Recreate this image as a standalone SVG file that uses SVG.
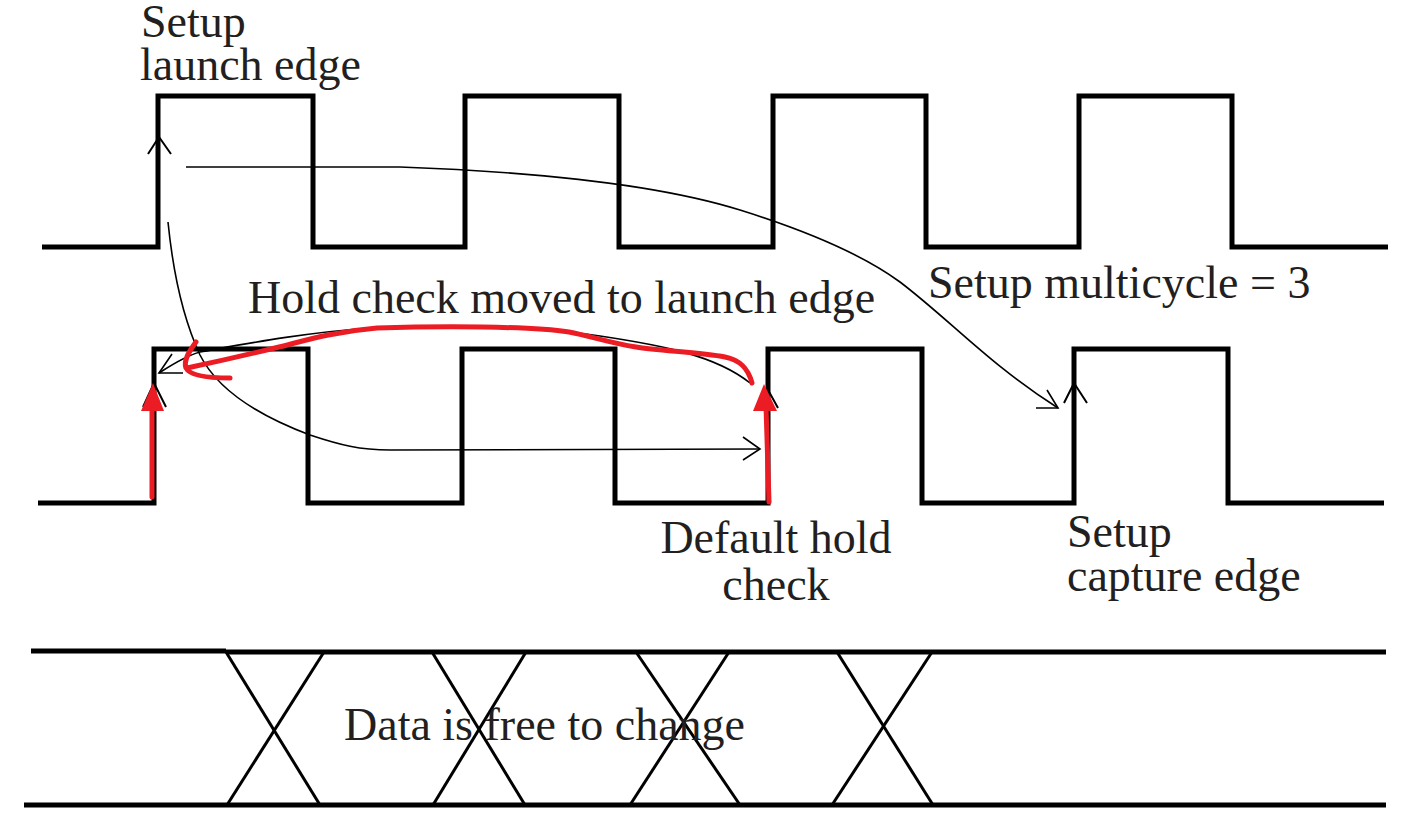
<svg xmlns="http://www.w3.org/2000/svg" width="1401" height="822" viewBox="0 0 1401 822">
<style>
.wave{fill:none;stroke:#000;stroke-width:5;stroke-linejoin:miter}
.bus{fill:none;stroke:#000;stroke-width:5}
.x{fill:none;stroke:#000;stroke-width:3}
.thin{fill:none;stroke:#000;stroke-width:1.6}
.chev{fill:none;stroke:#000;stroke-width:2}
.red{fill:none;stroke:#ec1c24;stroke-width:5;stroke-linecap:round;stroke-linejoin:round}
.redhead{fill:#ec1c24;stroke:none}
.lbl{font-family:"Liberation Serif","Times New Roman",serif;font-size:46px;fill:#231f20}
</style>
<rect width="1401" height="822" fill="#fff"/>
<g id="launch-clock">
<polyline class="wave" points="42,247 158,247 158,96 313,96 313,247 465,247 465,96 619,96 619,247 773,247 773,96 926,96 926,247 1079,247 1079,96 1232,96 1232,247 1388,247"/>
</g>
<g id="capture-clock">
<polyline class="wave" points="38,503 154,503 154,349 308,349 308,503 462,503 462,349 615,349 615,503 768,503 768,349 922,349 922,503 1074,503 1074,349 1228,349 1228,503 1384,503"/>
</g>
<g id="data-bus">
<line class="bus" x1="31" y1="651" x2="226" y2="651"/>
<line class="bus" x1="226" y1="652" x2="1386" y2="652"/>
<line class="bus" x1="24" y1="805" x2="1386" y2="805"/>
<line class="x" x1="226" y1="652" x2="320" y2="805"/>
<line class="x" x1="324" y1="652" x2="227" y2="805"/>
<line class="x" x1="432" y1="652" x2="525" y2="805"/>
<line class="x" x1="526" y1="652" x2="433" y2="805"/>
<line class="x" x1="636" y1="652" x2="740" y2="805"/>
<line class="x" x1="729" y1="652" x2="630" y2="805"/>
<line class="x" x1="837" y1="652" x2="933" y2="805"/>
<line class="x" x1="932" y1="652" x2="832" y2="805"/>
</g>
<g id="label-launch">
<text class="lbl" x="141" y="37">Setup</text>
<text class="lbl" x="140" y="80">launch edge</text>
</g>
<g id="label-hold-moved">
<text class="lbl" x="248" y="313">Hold check moved to launch edge</text>
</g>
<g id="label-multicycle">
<text class="lbl" x="928" y="298">Setup multicycle = 3</text>
</g>
<g id="label-default-hold">
<text class="lbl" x="776" y="553" text-anchor="middle">Default hold</text>
<text class="lbl" x="776" y="600" text-anchor="middle">check</text>
</g>
<g id="label-capture">
<text class="lbl" x="1067" y="547">Setup</text>
<text class="lbl" x="1067" y="591">capture edge</text>
</g>
<g id="label-data">
<text class="lbl" x="344" y="740">Data is free to change</text>
</g>
<g id="connectors">
<polyline class="chev" points="148,154 159,137 171,154"/>
<polyline class="chev" points="143,407 154,383 166,407"/>
<polyline class="chev" points="756,408 767,388 778,408"/>
<polyline class="chev" points="1064,403 1074,383 1087,403"/>
<path class="thin" d="M186,167 L400,167 C540,172 660,185 740,210 C820,235 870,260 900,282 C950,320 990,365 1058,408"/>
<polyline class="thin" points="1036,408 1058,408 1047,390"/>
<path class="thin" d="M168,222 C172,262 180,312 200,355 C220,395 270,420 310,435 C340,445 360,450 390,450 L760,449"/>
<polyline class="thin" points="743,437 760,449 743,460"/>
<path class="thin" d="M750,383 C715,355 660,345 600,336 C540,326 420,325 370,328 C300,333 240,345 200,352 C185,356 170,366 159,373"/>
<polyline class="thin" points="172,354 159,373 183,373"/>
<path class="red" d="M752,383 C748,368 740,360 725,357 C700,352 660,351 636,347 C610,343 590,336 569,332 C530,326 440,326 377,328 C330,332 300,342 279,347 C250,354 215,362 187,368"/>
<path class="red" d="M196,342 C190,350 183,360 186,368 C190,376 210,378 230,378"/>
<line class="red" x1="152" y1="497" x2="152" y2="406"/>
<polygon class="redhead" points="153,383 141,411 164,411"/>
<line class="red" x1="769" y1="502" x2="766" y2="406"/>
<polygon class="redhead" points="764,384 753,411 777,411"/>
</g>
</svg>
